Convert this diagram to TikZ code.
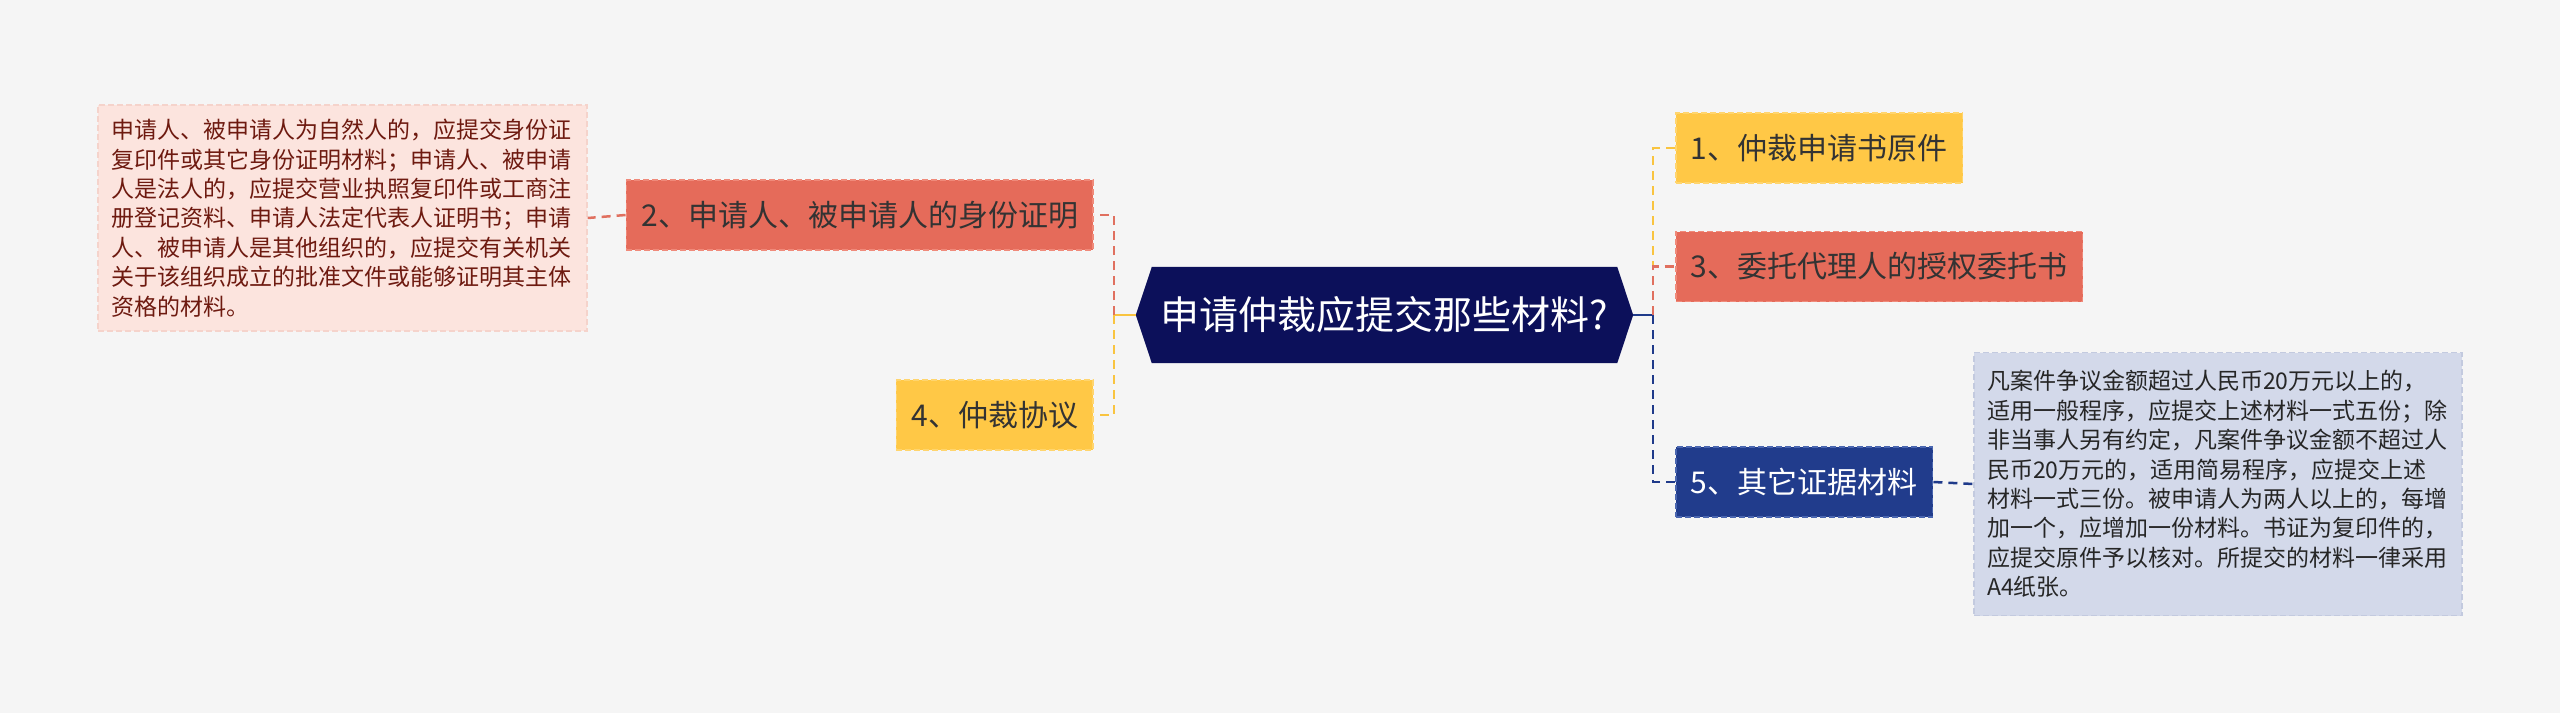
\documentclass[tikz,border=0pt]{standalone}
\usepackage{fontspec}
\setmainfont{Noto Sans CJK SC}
\usetikzlibrary{backgrounds,calc}
\definecolor{bgc}{HTML}{F5F5F5}
\definecolor{navyc}{HTML}{0C105A}
\definecolor{coralc}{HTML}{E56B5A}
\definecolor{coralb}{HTML}{F08A7A}
\definecolor{yellowc}{HTML}{FFC846}
\definecolor{yellowb}{HTML}{FFD56E}
\definecolor{bluec}{HTML}{213C8C}
\definecolor{blueb}{HTML}{4A66B0}
\definecolor{pinkc}{HTML}{FCE4DE}
\definecolor{pinkb}{HTML}{F5D3CB}
\definecolor{pinkt}{HTML}{6E1A10}
\definecolor{greyc}{HTML}{D3D9EA}
\definecolor{greyb}{HTML}{C3CADF}
\definecolor{darkt}{HTML}{333333}
\definecolor{linered}{HTML}{E0705F}
\definecolor{lineyel}{HTML}{F9C440}
\definecolor{lineblue}{HTML}{1F3A8A}
\begin{document}
\begin{tikzpicture}[x=1pt,y=-1pt,
  topic/.style={rectangle, minimum height=70pt, inner xsep=15pt, inner ysep=0pt,
    font=\fontsize{30pt}{36pt}\selectfont, line width=1.8pt, dash pattern=on 6pt off 3pt},
  topicred/.style={topic, fill=coralc, draw=coralb, text=darkt},
  topicyel/.style={topic, fill=yellowc, draw=yellowb, text=darkt},
  topicblue/.style={topic, fill=bluec, draw=blueb, text=white},
  notebox/.style={rectangle, align=left, inner xsep=13pt, inner ysep=0pt,
    font=\fontsize{23pt}{29.4pt}\selectfont, line width=1.2pt, dash pattern=on 6pt off 3pt},
  hexnode/.style={rectangle, minimum width=465pt, minimum height=96pt, inner sep=0pt,
    text=white, font=\fontsize{39pt}{44pt}\selectfont},
  link/.style={line width=2.5pt, dash pattern=on 9pt off 6pt},
  stub/.style={line width=2.5pt}
]
\useasboundingbox (0,0) rectangle (2560,713);

% central topic
\node[hexnode] (c) at (1384.5,315) {申请仲裁应提交那些材料?};
\coordinate (hl) at ($(c.west)+(-16,0)$);
\coordinate (hr) at ($(c.east)+(16,0)$);
\coordinate (jl) at (1114,315);
\coordinate (jr) at (1653,315);

% left topics
\node[topicred, anchor=east] (n2) at (1094,215) {2、申请人、被申请人的身份证明};
\node[topicyel, anchor=east] (n4) at (1094,415) {4、仲裁协议};
% right topics
\node[topicyel, anchor=west] (n1) at (1675,148) {1、仲裁申请书原件};
\node[topicred, anchor=west] (n3) at (1675,266.5) {3、委托代理人的授权委托书};
\node[topicblue, anchor=west] (n5) at (1675,482) {5、其它证据材料};

% notes
\node[notebox, fill=pinkc, draw=pinkb, text=pinkt, text width=462pt,
  minimum width=489pt, minimum height=226pt] (t2) at (342.5,218) {申请人、被申请人为自然人的，应提交身份证\\
复印件或其它身份证明材料；申请人、被申请\\
人是法人的，应提交营业执照复印件或工商注\\
册登记资料、申请人法定代表人证明书；申请\\
人、被申请人是其他组织的，应提交有关机关\\
关于该组织成立的批准文件或能够证明其主体\\
资格的材料。};

\node[notebox, fill=greyc, draw=greyb, text=black!85, text width=462pt,
  minimum width=488pt, minimum height=263pt] (t5) at (2218,484) {凡案件争议金额超过人民币20万元以上的，\\
适用一般程序，应提交上述材料一式五份；除\\
非当事人另有约定，凡案件争议金额不超过人\\
民币20万元的，适用简易程序，应提交上述\\
材料一式三份。被申请人为两人以上的，每增\\
加一个，应增加一份材料。书证为复印件的，\\
应提交原件予以核对。所提交的材料一律采用\\
A4纸张。};

% background and hexagon
\begin{scope}[on background layer]
  \fill[bgc] (0,0) rectangle (2560,713);
  \fill[navyc] (c.north west) -- (c.north east) -- (hr) -- (c.south east)
    -- (c.south west) -- (hl) -- cycle;
\end{scope}

% connectors left
\draw[stub, lineyel] (hl) -- (jl);
\draw[link, linered] (jl) |- (n2.east);
\draw[link, lineyel] (jl) |- (n4.east);
\draw[link, linered] (n2.west) -- (t2.east);
% connectors right
\draw[stub, lineblue] (hr) -- (jr);
\draw[link, lineyel] (jr) |- (n1.west);
\draw[link, linered] (jr) |- (n3.west);
\draw[link, lineblue] (jr) |- (n5.west);
\draw[link, lineblue] (n5.east) -- (t5.west);
\end{tikzpicture}
\end{document}
